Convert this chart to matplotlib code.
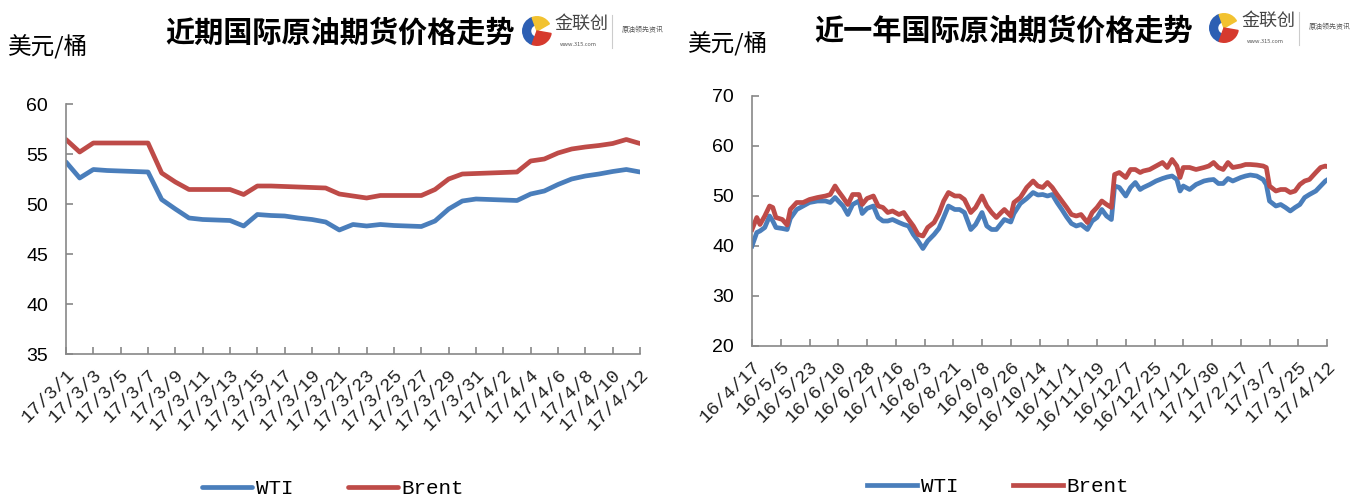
import numpy as np
import pandas as pd
import matplotlib
matplotlib.use('Agg')
import matplotlib.pyplot as plt
from matplotlib.patches import Wedge
from matplotlib.lines import Line2D

plt.rcParams['font.family'] = ['Noto Sans CJK SC', 'DejaVu Sans']

# ---- data: recent (daily, 2017-03-01 .. 2017-04-12)
recent_start = '2017-03-01'
recent_wti = [54.2, 52.6, 53.45, 53.35, 53.3, 53.25, 53.2, 50.45, 49.5, 48.6, 48.45,
              48.4, 48.35, 47.8, 48.95, 48.85, 48.8, 48.6, 48.45, 48.2, 47.4, 47.95,
              47.8, 47.95, 47.85, 47.8, 47.75, 48.3, 49.5, 50.3, 50.5, 50.45, 50.4,
              50.35, 51.0, 51.3, 51.95, 52.5, 52.8, 53.0, 53.25, 53.45, 53.2]
recent_brent = [56.45, 55.2, 56.1, 56.1, 56.1, 56.1, 56.1, 53.1, 52.2, 51.45, 51.45,
                51.45, 51.45, 50.95, 51.8, 51.8, 51.75, 51.7, 51.65, 51.6, 51.0, 50.8,
                50.6, 50.85, 50.85, 50.85, 50.85, 51.45, 52.5, 53.0, 53.05, 53.1, 53.15,
                53.2, 54.3, 54.5, 55.1, 55.5, 55.7, 55.85, 56.05, 56.45, 56.05]

# ---- data: last year (days after 2016-04-17)
year_start = '2016-04-17'
year_day = [0, 3, 5, 8, 11, 13, 15, 19, 22, 24, 28, 32, 36, 41, 46, 49, 52, 54, 57, 60,
            63, 67, 69, 72, 76, 79, 82, 85, 88, 92, 95, 98, 101, 104, 107, 110, 114, 117,
            120, 123, 127, 130, 133, 137, 140, 144, 147, 150, 153, 156, 158, 162, 164,
            168, 172, 176, 179, 182, 185, 188, 191, 194, 197, 200, 203, 206, 210, 213,
            216, 219, 222, 225, 227, 230, 234, 237, 240, 243, 245, 249, 253, 257, 260,
            263, 266, 268, 270, 274, 278, 283, 286, 289, 292, 295, 298, 301, 306, 309,
            312, 316, 320, 322, 324, 328, 331, 334, 337, 340, 343, 346, 349, 353, 356,
            359, 360]
year_brent = [43.3, 45.7, 44.3, 46.0, 48.0, 47.7, 45.7, 45.3, 44.2, 47.3, 48.7, 48.7,
              49.3, 49.7, 50.0, 50.3, 52.0, 51.0, 49.7, 48.3, 50.3, 50.3, 48.3, 49.5,
              50.0, 48.0, 47.7, 46.7, 47.0, 46.3, 46.7, 45.3, 44.0, 42.3, 42.0, 43.7,
              44.7, 46.5, 49.0, 50.7, 50.0, 50.0, 49.3, 46.7, 47.7, 50.0, 48.0, 46.7,
              45.7, 46.7, 47.3, 46.0, 48.7, 49.7, 51.7, 53.0, 52.0, 51.7, 52.7, 51.7,
              50.3, 49.0, 47.7, 46.3, 46.0, 46.3, 44.7, 46.7, 47.7, 49.0, 48.3, 47.7,
              54.3, 54.7, 53.7, 55.3, 55.3, 54.7, 55.0, 55.3, 56.0, 56.7, 55.7, 57.3,
              56.0, 53.7, 55.7, 55.7, 55.3, 55.7, 56.0, 56.7, 55.7, 55.3, 56.7, 55.7,
              56.0, 56.3, 56.3, 56.2, 56.0, 55.7, 52.0, 51.0, 51.3, 51.3, 50.7, 51.0,
              52.3, 53.0, 53.3, 54.7, 55.7, 56.0, 55.9]
year_wti = [40.0, 42.7, 43.0, 43.7, 46.0, 45.0, 43.7, 43.5, 43.3, 45.5, 47.3, 48.0,
            48.7, 49.0, 49.0, 48.7, 49.7, 49.0, 48.0, 46.3, 48.3, 49.0, 46.5, 47.5,
            48.0, 45.7, 45.0, 45.0, 45.3, 44.7, 44.3, 44.0, 42.3, 41.0, 39.5, 41.0,
            42.3, 43.5, 45.7, 48.0, 47.3, 47.3, 46.7, 43.3, 44.3, 46.7, 44.0, 43.3,
            43.3, 44.5, 45.3, 44.8, 46.5, 48.5, 49.5, 50.7, 50.2, 50.3, 50.0, 50.3,
            48.7, 47.3, 45.8, 44.5, 44.0, 44.3, 43.3, 45.0, 45.7, 47.3, 46.0, 45.3,
            52.0, 51.7, 50.0, 51.7, 52.7, 51.3, 51.7, 52.3, 53.0, 53.5, 53.8, 54.0,
            53.3, 51.0, 52.0, 51.3, 52.3, 53.0, 53.2, 53.3, 52.5, 52.5, 53.5, 53.0,
            53.7, 54.0, 54.2, 54.0, 53.3, 52.3, 49.0, 48.0, 48.3, 47.7, 47.0, 47.7,
            48.3, 49.7, 50.3, 51.0, 52.0, 53.0, 53.2]

blue = '#4A7EBB'
red = '#BE4B48'
axis_gray = '#878787'


def date_label(d):
    return f"{d.year % 100}/{d.month}/{d.day}"


def style_axes(ax, ymin, ymax, ystep, tick_dates):
    for s in ['top', 'right']:
        ax.spines[s].set_visible(False)
    for s in ['left', 'bottom']:
        ax.spines[s].set_color(axis_gray)
        ax.spines[s].set_linewidth(1.2)
    ax.set_ylim(ymin, ymax)
    ax.set_yticks(np.arange(ymin, ymax + 0.1, ystep))
    ax.set_xlim(tick_dates[0], tick_dates[-1])
    ax.set_xticks(tick_dates)
    ax.set_xticklabels([date_label(d) for d in tick_dates], rotation=45,
                       ha='right', va='top', rotation_mode='anchor',
                       family='Liberation Mono', fontsize=13.5, color='#222222')
    ax.tick_params(axis='both', direction='in', color=axis_gray, length=5, width=1.2)
    ax.tick_params(axis='y', labelsize=14, pad=13)
    ax.tick_params(axis='x', pad=9)
    for lab in ax.get_yticklabels():
        lab.set_family('Liberation Sans')


def draw_logo(fig, x0, y0):
    # icon
    iax = fig.add_axes([x0, y0, 30 / 1362, 38 / 497])
    iax.set_aspect('equal')
    iax.axis('off')
    iax.add_patch(Wedge((0, 0), 1, 110, 250, width=0.55, color='#2D5FB3'))
    iax.add_patch(Wedge((0, 0), 1, 30, 110, color='#F2C230'))
    iax.add_patch(Wedge((0, 0), 1, 250, 350, color='#D63A2E'))
    iax.set_xlim(-1.05, 1.05)
    iax.set_ylim(-1.05, 1.05)
    fx = x0 + 32 / 1362
    fig.text(fx, y0 + 0.052, '金联创', fontsize=13, color='#444444', va='center')
    fig.text(fx + 0.004, y0 + 0.012, 'www.315.com', fontsize=4, color='#555555', va='center')
    fig.add_artist(Line2D([fx + 58 / 1362] * 2, [y0 + 0.005, y0 + 0.07],
                          color='#cccccc', lw=0.8))
    fig.text(fx + 68 / 1362, y0 + 0.04, '原油领先资讯', fontsize=5, color='#555555',
             va='center')


fig = plt.figure(figsize=(13.62, 4.97), dpi=100)

# ---- left chart
ax1 = fig.add_axes([66 / 1362, 1 - 354 / 497, 574 / 1362, 250 / 497])
rd = pd.date_range(recent_start, periods=len(recent_wti), freq='D')
ax1.plot(rd, recent_wti, color=blue, lw=3.4, solid_capstyle='round', label='WTI')
ax1.plot(rd, recent_brent, color=red, lw=3.4, solid_capstyle='round', label='Brent')
style_axes(ax1, 35, 60, 5, pd.date_range(rd[0], rd[-1], freq='2D'))

# ---- right chart
ax2 = fig.add_axes([752 / 1362, 1 - 346 / 497, 575 / 1362, 250 / 497])
yd = pd.Timestamp(year_start) + pd.to_timedelta(year_day, unit='D')
ax2.plot(yd, year_wti, color=blue, lw=3.4, solid_joinstyle='round', label='WTI')
ax2.plot(yd, year_brent, color=red, lw=3.4, solid_joinstyle='round', label='Brent')
style_axes(ax2, 20, 70, 10, pd.date_range(year_start, periods=21, freq='18D'))

# titles and units
fig.text(340 / 1362, 1 - 33 / 497, '近期国际原油期货价格走势', fontsize=21,
         fontweight='bold', ha='center', va='center')
fig.text(1004 / 1362, 1 - 31 / 497, '近一年国际原油期货价格走势', fontsize=21,
         fontweight='bold', ha='center', va='center')
fig.text(8 / 1362, 1 - 47 / 497, '美元/桶', fontsize=17, va='center')
fig.text(688 / 1362, 1 - 44 / 497, '美元/桶', fontsize=17, va='center')

draw_logo(fig, 522 / 1362, 1 - 50 / 497)
draw_logo(fig, 1209 / 1362, 1 - 47 / 497)

# legends
for ax, cx, cy in [(ax1, 333 / 1362, 1 - 489 / 497), (ax2, 998 / 1362, 1 - 487 / 497)]:
    h, l = ax.get_legend_handles_labels()
    fig.legend(h, l, loc='center', bbox_to_anchor=(cx, cy), ncol=2, frameon=False,
               prop={'family': 'Liberation Mono', 'size': 15}, handlelength=2.4,
               handletextpad=0.2, columnspacing=2.6)

fig.savefig('out.png', dpi=100, facecolor='white')
